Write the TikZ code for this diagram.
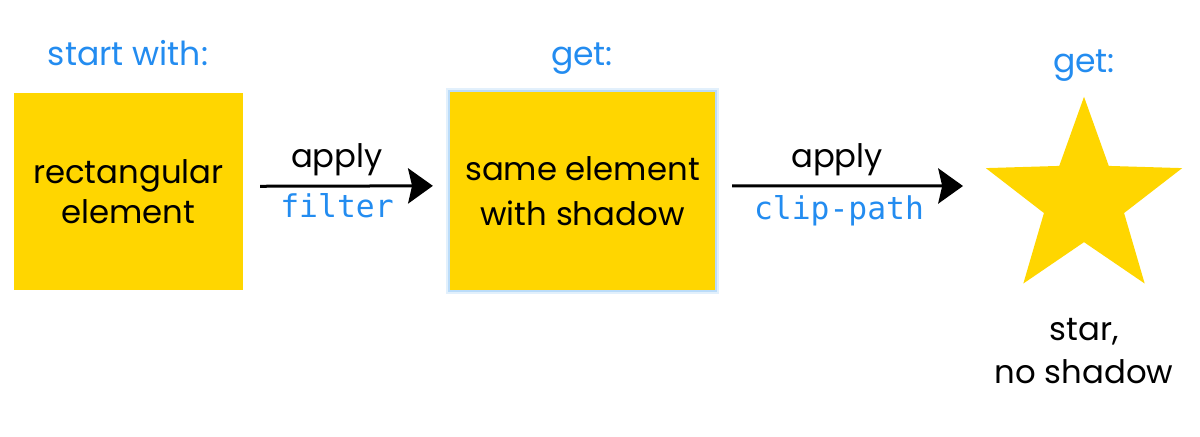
\documentclass[tikz,border=0pt]{standalone}
\usepackage{fontspec}
\setmainfont{Poppins}
\setmonofont{DejaVu Sans Mono}
\usetikzlibrary{arrows.meta,shapes.geometric}

\definecolor{gold}{RGB}{255,214,0}
\definecolor{skyblue}{RGB}{35,140,240}
\definecolor{glowblue}{RGB}{140,195,245}

\begin{document}
\begin{tikzpicture}[x=0.025cm, y=-0.025cm,
	box/.style={fill=gold, inner sep=0pt, align=center, font=\fontsize{23}{27}\selectfont},
	caption/.style={text=skyblue, anchor=base, font=\fontsize{23.5}{27}\selectfont},
	word/.style={anchor=base, align=center, font=\fontsize{23}{27}\selectfont},
	code/.style={text=skyblue, anchor=base, font=\fontsize{22.3}{26}\ttfamily},
	flow/.style={-{Stealth[length=0.62cm, width=0.88cm, inset=0.1cm]}, line width=0.075cm}]

		\def \boxheight {4.93} %in cm
		\def \gap {0.42}

		\useasboundingbox (0,0) rectangle (1200,436);

		\node (start) at (128,65) [caption]{start with:};
		\node (get1) at (582,65) [caption]{get:};
		\node (get2) at (1084,72) [caption]{get:};

		\node (rect) at (128.5,191.5) [box, minimum width = 5.725cm, minimum height = \boxheight cm]{rectangular\\[1pt] element};
		\node (shadowed) at (582.5,191) [box, minimum width = 6.625cm, minimum height = \boxheight cm,
			preaction={draw=glowblue, opacity=0.25, line width=0.2cm},
			preaction={draw=glowblue, opacity=0.45, line width=0.1cm}]{same element\\[5pt] with shadow};
		\node (star) at (1084,200) [star, star points=5, star point ratio=2.45, fill=gold, inner sep=0pt, minimum size=5.16cm]{};

		\node (apply1) at (337,167) [word]{apply};
		\node (filter) at (337,217) [code]{filter};
		\node (apply2) at (837,167) [word]{apply};
		\node (clip) at (839,219) [code]{clip-path};
		\node (nostar) at (1084,383) [word]{star,\\[3pt] no shadow};

		\coordinate (stop) at (963,186);
		\draw[flow, shorten <=\gap cm, shorten >=\gap cm] ([yshift=0.13cm]rect.east) -- ([yshift=0.13cm]shadowed.west);
		\draw[flow, shorten <=\gap cm] ([yshift=0.13cm]shadowed.east) -- (stop);

	\end{tikzpicture}
\end{document}
